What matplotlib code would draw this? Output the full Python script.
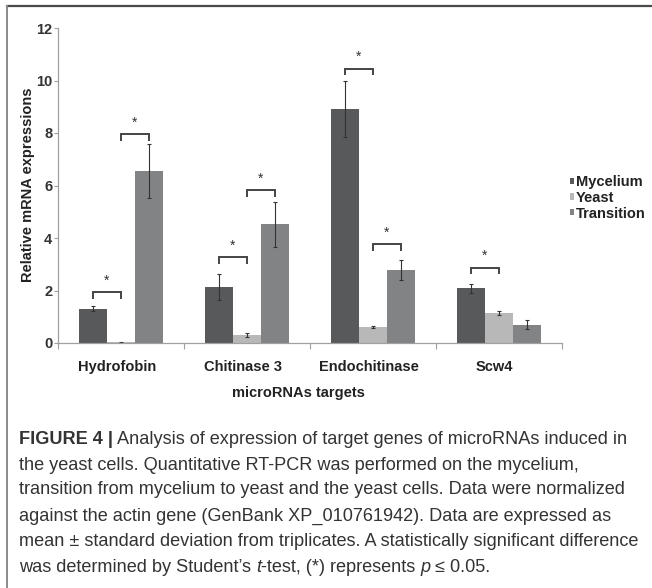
import matplotlib
matplotlib.use("Agg")
import matplotlib.pyplot as plt
from matplotlib.lines import Line2D
from matplotlib.patches import Patch
import numpy as np

# ---------------- data ----------------
categories = ["Hydrofobin", "Chitinase 3", "Endochitinase", "Scw4"]
series_names = ["Mycelium", "Yeast", "Transition"]
mycelium = [1.31, 2.13, 8.91, 2.08]
mycelium_err = [0.09, 0.49, 1.06, 0.17]
yeast = [0.02, 0.32, 0.61, 1.14]
yeast_err = [0.005, 0.08, 0.02, 0.09]
transition = [6.54, 4.52, 2.78, 0.70]
transition_err = [1.03, 0.85, 0.39, 0.16]
# significance brackets: (category index, bar a, bar b, bracket height)
sig_cat = [0, 0, 1, 1, 2, 2, 3]
sig_a = [0, 1, 0, 1, 0, 1, 0]
sig_b = [1, 2, 1, 2, 1, 2, 1]
sig_h = [1.93, 7.96, 3.26, 5.82, 10.45, 3.77, 2.87]
yticks = [0, 2, 4, 6, 8, 10, 12]

caption_lines = [
    [("FIGURE 4 |", "bold", "normal"), (" Analysis of expression of target genes of microRNAs induced in", "normal", "normal")],
    [("the yeast cells. Quantitative RT-PCR was performed on the mycelium,", "normal", "normal")],
    [("transition from mycelium to yeast and the yeast cells. Data were normalized", "normal", "normal")],
    [("against the actin gene (GenBank XP_010761942). Data are expressed as", "normal", "normal")],
    [("mean \u00b1 standard deviation from triplicates. A statistically significant difference", "normal", "normal")],
    [("was determined by Student\u2019s ", "normal", "normal"), ("t", "normal", "italic"),
     ("-test, (*) represents ", "normal", "normal"), ("p", "normal", "italic"), (" \u2264 0.05.", "normal", "normal")],
]

colors = ["#58595b", "#b8b8b8", "#828385"]
W, H = 652, 588
plt.rcParams['font.family'] = ['Liberation Sans', 'DejaVu Sans']

fig = plt.figure(figsize=(W / 100, H / 100), dpi=100)
fig.patch.set_facecolor("white")

ax = fig.add_axes([58 / W, 1 - 343 / H, (562 - 58) / W, (343 - 28) / H])
x = np.arange(len(categories))
bw = 2 / 9
vals = [mycelium, yeast, transition]
errs = [mycelium_err, yeast_err, transition_err]
for k in range(3):
    ax.bar(x + (k - 1) * bw, vals[k], bw, color=colors[k], label=series_names[k],
           yerr=errs[k], error_kw=dict(ecolor="#333333", elinewidth=0.8, capsize=1.6, capthick=0.8),
           zorder=2)

leg_h = 0.25
for c, a, b, h in zip(sig_cat, sig_a, sig_b, sig_h):
    xa = c + (a - 1) * bw
    xb = c + (b - 1) * bw
    ax.plot([xa, xa, xb, xb], [h - leg_h, h, h, h - leg_h], color="#444444", lw=1.4,
            solid_capstyle="butt", solid_joinstyle="miter", zorder=3, clip_on=False)
    ax.text((xa + xb) / 2, h + 0.18, "*", ha="center", va="bottom", fontsize=10, color="#333333")

ax.set_xlim(-0.5, len(categories) - 0.5)
ax.set_ylim(0, 12)
ax.set_yticks(yticks)
ax.set_yticklabels([str(t) for t in yticks], fontsize=10.5, fontweight="bold", color="#333333")
ax.set_xticks(np.arange(len(categories) + 1) - 0.5)
ax.set_xticklabels([])
ax.tick_params(axis="y", length=3, width=0.8, color="#a0a0a0", pad=1)
ax.tick_params(axis="x", length=4, width=0.8, color="#a0a0a0", direction="out")
for s in ["top", "right"]:
    ax.spines[s].set_visible(False)
for s in ["left", "bottom"]:
    ax.spines[s].set_color("#a0a0a0")
    ax.spines[s].set_linewidth(0.9)

for i, cat in enumerate(categories):
    ax.annotate(cat, xy=(i, 0), xycoords=("data", "axes fraction"), xytext=(-3, -17.5),
                textcoords="offset points", ha="center", va="center", fontsize=10.5,
                fontweight="bold", color="#222222")

fig.text(298 / W, 1 - 393 / H, "microRNAs targets", ha="center", va="center", fontsize=10.5,
         fontweight="bold", color="#222222")
fig.text(28 / W, 1 - 185 / H, "Relative mRNA expressions", ha="center", va="center", rotation=90,
         fontsize=10.5, fontweight="bold", color="#222222")

handles = [Patch(facecolor=colors[k], edgecolor="none") for k in range(3)]
ax.legend(handles, series_names, loc="upper left", bbox_to_anchor=(570 / W, 1 - 175 / H),
          bbox_transform=fig.transFigure, frameon=False, handlelength=0.3, handleheight=0.3,
          handletextpad=0.1, labelspacing=0.12, borderpad=0, borderaxespad=0,
          prop=dict(size=10.5, weight="bold"), labelcolor="#222222")

# border
fig.add_artist(Line2D([7 / W, 1], [1 - 6 / H, 1 - 6 / H], color="#4a4a4a", lw=1.6, transform=fig.transFigure))
fig.add_artist(Line2D([7 / W, 7 / W], [1 - 6 / H, 0], color="#8a8a8a", lw=1.4, transform=fig.transFigure))

# caption
cap_family = ['Liberation Sans Narrow', 'Liberation Sans', 'DejaVu Sans']
fig.canvas.draw()
renderer = fig.canvas.get_renderer()

def line_width(segs, fs):
    tot = 0
    for txt, wt, st in segs:
        t = fig.text(0, 0, txt, fontsize=fs, fontweight=wt, fontstyle=st, family=cap_family)
        tot += t.get_window_extent(renderer).width
        t.remove()
    return tot

target = 640 - 19
fs = 12 * target / line_width(caption_lines[4], 12)
ys = [439, 465, 490, 516, 542, 568]
for segs, yy in zip(caption_lines, ys):
    xx = 19
    for txt, wt, st in segs:
        t = fig.text(xx / W, 1 - yy / H, txt, fontsize=fs, fontweight=wt, fontstyle=st,
                     family=cap_family, color="#333333", va="center", ha="left")
        xx += t.get_window_extent(renderer).width

fig.savefig("out.png", dpi=100, facecolor="white")
